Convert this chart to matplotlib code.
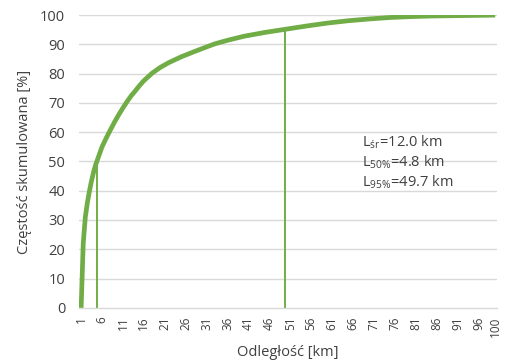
import numpy as np
import matplotlib
matplotlib.use('Agg')
import matplotlib.pyplot as plt

plt.rcParams['font.family'] = ['Open Sans', 'DejaVu Sans']
plt.rcParams['mathtext.fontset'] = 'custom'
plt.rcParams['mathtext.rm'] = 'Open Sans'

# cumulative frequency of distance
dist = [1, 1.5, 2, 2.5, 3, 3.5, 4, 4.5, 5, 6, 7, 8, 9, 10, 11, 12, 13, 14,
        15, 16, 18, 20, 22, 25, 28, 30, 33, 36, 40, 45, 50, 55, 60, 65, 70,
        75, 80, 85, 90, 95, 100]
cum = [0, 22, 31, 36, 40, 43.5, 46.5, 49, 51, 55, 58, 60.8, 63.5, 66,
       68.3, 70.5, 72.5, 74.2, 76, 77.6, 80.2, 82.2, 83.8, 85.8, 87.5,
       88.6, 90.2, 91.4, 92.8, 94.1, 95.2, 96.3, 97.3, 98.1, 98.7, 99.2,
       99.5, 99.7, 99.8, 99.9, 100]

# marker lines: L50% and L95%
marks = [4.8, 49.7]

xticks = list(range(1, 100, 5)) + [100]
yticks = list(range(0, 101, 10))

green = '#70AD47'
grey_txt = '#404040'

fig = plt.figure(figsize=(5.1, 3.6), dpi=100)
ax = fig.add_axes([0.155, 0.145, 0.82, 0.813])

for y in yticks[1:]:
  ax.axhline(y, color='#D9D9D9', lw=1.0, zorder=0)

ax.plot(dist, cum, color=green, lw=3.4, solid_joinstyle='round',
        solid_capstyle='butt', zorder=3)

for m in marks:
  top = np.interp(m, dist, cum)
  ax.plot([m, m], [0, top], color=green, lw=1.4, zorder=2)

ax.set_xlim(0.5, 100.5)
ax.set_ylim(0, 100)
ax.set_xticks(xticks)
ax.set_xticklabels([str(t) for t in xticks], rotation=90, fontsize=8.5,
                   color=grey_txt)
ax.set_yticks(yticks)
ax.set_yticklabels([str(t) for t in yticks], fontsize=10.5, color=grey_txt)
ax.tick_params(length=0, pad=6)
ax.tick_params(axis='y', pad=10)

for s in ['top', 'right', 'left']:
  ax.spines[s].set_visible(False)
ax.spines['bottom'].set_color('#D9D9D9')
ax.spines['bottom'].set_linewidth(1.0)

ax.set_xlabel('Odległość [km]', fontsize=10.5, color=grey_txt, labelpad=6)
ax.set_ylabel('Częstość skumulowana [%]', fontsize=10.5, color=grey_txt,
              labelpad=6)

labels = [r'L$_{\mathrm{śr}}$=12.0 km',
          r'L$_{\mathrm{50\%}}$=4.8 km',
          r'L$_{\mathrm{95\%}}$=49.7 km']
for i, t in enumerate(labels):
  ax.text(68.2, 56.7 - i * 6.8, t, fontsize=10.5, color=grey_txt,
          va='center', ha='left')

plt.savefig('out.png', dpi=100)
